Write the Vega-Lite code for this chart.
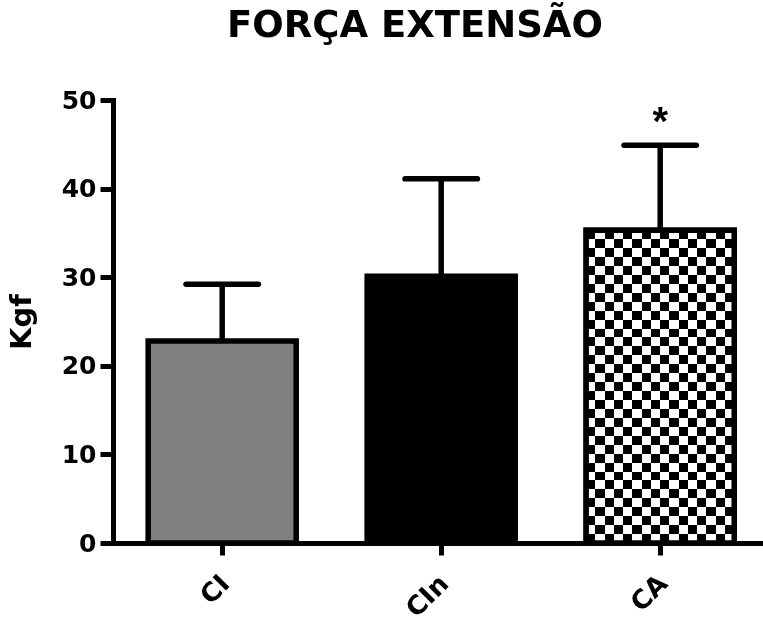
{
  "$schema": "https://vega.github.io/schema/vega-lite/v6.json",
  "width": 650,
  "height": 443,
  "autosize": {"type": "none"},
  "padding": {"left": 113, "top": 100, "right": 0, "bottom": 83},
  "background": "white",
  "config": {"view": {"stroke": null}, "font": "DejaVu Sans"},
  "title": {
    "text": "FORÇA EXTENSÃO",
    "font": "DejaVu Sans",
    "fontSize": 37,
    "fontWeight": "bold",
    "color": "black",
    "anchor": "middle",
    "frame": "group",
    "baseline": "alphabetic",
    "dx": -23,
    "offset": 14
  },
  "data": {
    "values": [
      {"group": "CI", "mean": 22.8, "upper": 29.2, "sig": ""},
      {"group": "CIn", "mean": 30.1, "upper": 41.1, "sig": ""},
      {"group": "CA", "mean": 35.3, "upper": 44.9, "sig": "*"}
    ]
  },
  "encoding": {
    "x": {
      "field": "group",
      "type": "nominal",
      "sort": ["CI", "CIn", "CA"],
      "scale": {"paddingInner": 0.324, "paddingOuter": 0.146, "align": 0.55},
      "axis": {
        "title": null,
        "domainColor": "black",
        "domainWidth": 5,
        "domainCap": "square",
        "tickColor": "black",
        "tickWidth": 5,
        "tickSize": 12,
        "labelAngle": -45,
        "labelFont": "DejaVu Sans",
        "labelFontSize": 26,
        "labelFontWeight": "bold",
        "labelColor": "black",
        "labelPadding": 15,
        "labelOffset": -6,
        "zindex": 1
      }
    }
  },
  "layer": [
    {
      "mark": {"type": "bar", "stroke": "black", "strokeWidth": 5.5, "strokeJoin": "miter"},
      "encoding": {
        "y": {
          "field": "mean",
          "type": "quantitative",
          "scale": {"domain": [0, 50], "nice": false, "zero": true},
          "axis": {
            "values": [0, 10, 20, 30, 40, 50],
            "grid": false,
            "domainColor": "black",
            "domainWidth": 5,
            "domainCap": "square",
            "tickColor": "black",
            "tickWidth": 5,
            "tickSize": 13,
            "labelFont": "DejaVu Sans",
            "labelFontSize": 25,
            "labelFontWeight": "bold",
            "labelColor": "black",
            "labelPadding": 4,
            "title": "Kgf",
            "titleFont": "DejaVu Sans",
            "titleFontSize": 29,
            "titleFontWeight": "bold",
            "titleColor": "black",
            "titlePadding": 25,
            "zindex": 1
          }
        },
        "fill": {
          "field": "group",
          "type": "nominal",
          "scale": {"domain": ["CI", "CIn", "CA"], "range": ["#808080", "#000000", "#ffffff"]},
          "legend": null
        }
      }
    },
    {
      "transform": [{"filter": "datum.group === 'CA'"}],
      "mark": {
        "type": "bar",
        "strokeWidth": 0,
        "fill": {
          "gradient": "linear", "x1": 0, "y1": 0, "x2": 0, "y2": 1,
          "stops": [
            {"offset":0,"color":"white"},{"offset":0.02857,"color":"white"},
            {"offset":0.02857,"color":"black"},{"offset":0.05714,"color":"black"},
            {"offset":0.05714,"color":"white"},{"offset":0.08571,"color":"white"},
            {"offset":0.08571,"color":"black"},{"offset":0.11429,"color":"black"},
            {"offset":0.11429,"color":"white"},{"offset":0.14286,"color":"white"},
            {"offset":0.14286,"color":"black"},{"offset":0.17143,"color":"black"},
            {"offset":0.17143,"color":"white"},{"offset":0.2,"color":"white"},
            {"offset":0.2,"color":"black"},{"offset":0.22857,"color":"black"},
            {"offset":0.22857,"color":"white"},{"offset":0.25714,"color":"white"},
            {"offset":0.25714,"color":"black"},{"offset":0.28571,"color":"black"},
            {"offset":0.28571,"color":"white"},{"offset":0.31429,"color":"white"},
            {"offset":0.31429,"color":"black"},{"offset":0.34286,"color":"black"},
            {"offset":0.34286,"color":"white"},{"offset":0.37143,"color":"white"},
            {"offset":0.37143,"color":"black"},{"offset":0.4,"color":"black"},
            {"offset":0.4,"color":"white"},{"offset":0.42857,"color":"white"},
            {"offset":0.42857,"color":"black"},{"offset":0.45714,"color":"black"},
            {"offset":0.45714,"color":"white"},{"offset":0.48571,"color":"white"},
            {"offset":0.48571,"color":"black"},{"offset":0.51429,"color":"black"},
            {"offset":0.51429,"color":"white"},{"offset":0.54286,"color":"white"},
            {"offset":0.54286,"color":"black"},{"offset":0.57143,"color":"black"},
            {"offset":0.57143,"color":"white"},{"offset":0.6,"color":"white"},
            {"offset":0.6,"color":"black"},{"offset":0.62857,"color":"black"},
            {"offset":0.62857,"color":"white"},{"offset":0.65714,"color":"white"},
            {"offset":0.65714,"color":"black"},{"offset":0.68571,"color":"black"},
            {"offset":0.68571,"color":"white"},{"offset":0.71429,"color":"white"},
            {"offset":0.71429,"color":"black"},{"offset":0.74286,"color":"black"},
            {"offset":0.74286,"color":"white"},{"offset":0.77143,"color":"white"},
            {"offset":0.77143,"color":"black"},{"offset":0.8,"color":"black"},
            {"offset":0.8,"color":"white"},{"offset":0.82857,"color":"white"},
            {"offset":0.82857,"color":"black"},{"offset":0.85714,"color":"black"},
            {"offset":0.85714,"color":"white"},{"offset":0.88571,"color":"white"},
            {"offset":0.88571,"color":"black"},{"offset":0.91429,"color":"black"},
            {"offset":0.91429,"color":"white"},{"offset":0.94286,"color":"white"},
            {"offset":0.94286,"color":"black"},{"offset":0.97143,"color":"black"},
            {"offset":0.97143,"color":"white"},{"offset":1,"color":"white"}
          ]
        }
      },
      "encoding": {"y": {"field": "mean", "type": "quantitative"}}
    },
    {
      "transform": [{"filter": "datum.group === 'CA'"}],
      "mark": {
        "type": "bar",
        "strokeWidth": 0,
        "blend": "difference",
        "fill": {
          "gradient": "linear", "x1": 0, "y1": 0, "x2": 1, "y2": 0,
          "stops": [
            {"offset":0,"color":"white"},{"offset":0.0625,"color":"white"},
            {"offset":0.0625,"color":"black"},{"offset":0.125,"color":"black"},
            {"offset":0.125,"color":"white"},{"offset":0.1875,"color":"white"},
            {"offset":0.1875,"color":"black"},{"offset":0.25,"color":"black"},
            {"offset":0.25,"color":"white"},{"offset":0.3125,"color":"white"},
            {"offset":0.3125,"color":"black"},{"offset":0.375,"color":"black"},
            {"offset":0.375,"color":"white"},{"offset":0.4375,"color":"white"},
            {"offset":0.4375,"color":"black"},{"offset":0.5,"color":"black"},
            {"offset":0.5,"color":"white"},{"offset":0.5625,"color":"white"},
            {"offset":0.5625,"color":"black"},{"offset":0.625,"color":"black"},
            {"offset":0.625,"color":"white"},{"offset":0.6875,"color":"white"},
            {"offset":0.6875,"color":"black"},{"offset":0.75,"color":"black"},
            {"offset":0.75,"color":"white"},{"offset":0.8125,"color":"white"},
            {"offset":0.8125,"color":"black"},{"offset":0.875,"color":"black"},
            {"offset":0.875,"color":"white"},{"offset":0.9375,"color":"white"},
            {"offset":0.9375,"color":"black"},{"offset":1,"color":"black"}
          ]
        }
      },
      "encoding": {"y": {"field": "mean", "type": "quantitative"}}
    },
    {
      "transform": [{"filter": "datum.group === 'CA'"}],
      "mark": {"type": "bar", "fill": null, "fillOpacity": 0, "stroke": "black", "strokeWidth": 5.5, "strokeJoin": "miter"},
      "encoding": {"y": {"field": "mean", "type": "quantitative"}}
    },
    {
      "mark": {"type": "rule", "color": "black", "strokeWidth": 5.5},
      "encoding": {
        "y": {"field": "mean", "type": "quantitative"},
        "y2": {"field": "upper"}
      }
    },
    {
      "mark": {"type": "tick", "color": "black", "size": 78, "thickness": 5.5, "cornerRadius": 2.7, "opacity": 1},
      "encoding": {"y": {"field": "upper", "type": "quantitative"}}
    },
    {
      "mark": {"type": "text", "font": "Liberation Sans", "fontSize": 40, "fontWeight": "bold", "color": "black", "baseline": "alphabetic", "dy": -10},
      "encoding": {
        "y": {"field": "upper", "type": "quantitative"},
        "text": {"field": "sig"}
      }
    }
  ]
}
